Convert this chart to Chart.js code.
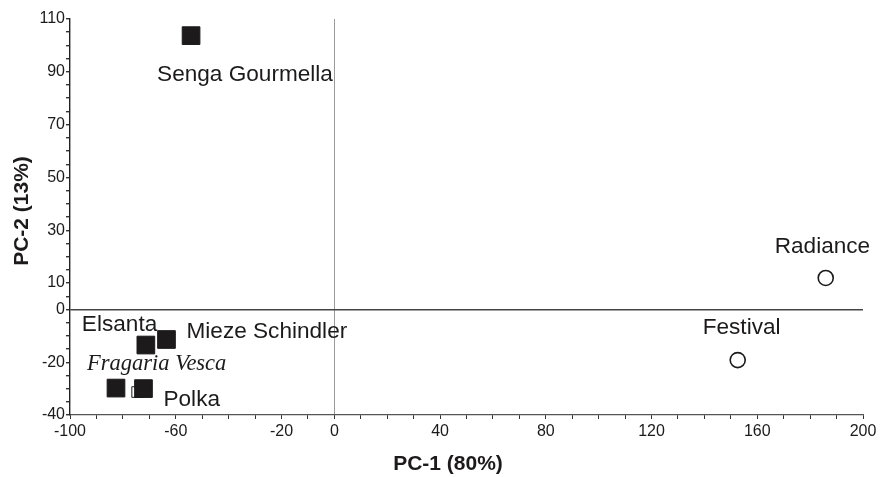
<!DOCTYPE html>
<html>
<head>
<meta charset="utf-8">
<title>PCA scatter</title>
<script src="https://cdn.jsdelivr.net/npm/chart.js@4.4.1/dist/chart.umd.min.js"></script>
<style>
  html, body { margin: 0; padding: 0; background: #fff; }
  canvas { display: block; }
</style>
</head>
<body>
<canvas id="pcaChart" width="880" height="477"></canvas>
<script>
// Cultivares (quadrados cheios)
const cultivarNames = ['Senga Gourmella', 'Elsanta', 'Mieze Schindler', 'Fragaria Vesca', 'Polka'];
const cultivarPC1 = [-54.2, -71.3, -63.5, -82.6, -72.2];
const cultivarPC2 = [103.7, -13.5, -11.4, -29.8, -30.0];

// Seleções (círculos abertos)
const selectionNames = ['Festival', 'Radiance'];
const selectionPC1 = [152.6, 185.9];
const selectionPC2 = [-19.2, 11.9];

// marcador pequeno escondido atrás de Polka
const hiddenPC1 = [-74.6];
const hiddenPC2 = [-31.3];

// Eixos
const xMin = -100, xMax = 200, xStep = 10;
const yMin = -40, yMax = 110, yStep = 5;
const xTickLabels = [-100, -60, -20, 0, 40, 80, 120, 160, 200];
const yTickLabels = [-40, -20, 0, 10, 30, 50, 70, 90, 110];
const xTitle = 'PC-1 (80%)';
const yTitle = 'PC-2 (13%)';

// deslocamento dos rótulos em pixels (esquerda, linha de base)
const labelOffsets = {
    'Senga Gourmella': [-34, 45],
    'Elsanta': [-64, -14],
    'Mieze Schindler': [20, -1],
    'Fragaria Vesca': [-29, -18],
    'Polka': [20, 17],
    'Festival': [-35, -26],
    'Radiance': [-51, -25]
};

const ink = '#1c1a1b';

function toPoints(xs, ys) {
    return xs.map((x, i) => ({ x: x, y: ys[i] }));
}

function stepTicks(min, max, step) {
    const out = [];
    for (let v = min; v <= max; v += step) out.push({ value: v });
    return out;
}

const pointLabels = {
    id: 'pointLabels',
    afterDatasetsDraw(chart) {
        const ctx = chart.ctx;
        ctx.save();
        ctx.fillStyle = ink;
        ctx.textAlign = 'left';
        ctx.textBaseline = 'alphabetic';
        [cultivarNames, selectionNames].forEach((names, di) => {
            const meta = chart.getDatasetMeta(di);
            names.forEach((name, i) => {
                const pt = meta.data[i];
                const off = labelOffsets[name];
                ctx.font = name === 'Fragaria Vesca'
                    ? 'italic 22.5px "Liberation Serif"'
                    : '22.6px "Liberation Sans"';
                ctx.fillText(name, pt.x + off[0], pt.y + off[1]);
            });
        });
        ctx.restore();
    }
};

const axisTitles = {
    id: 'axisTitles',
    afterDraw(chart) {
        const ctx = chart.ctx;
        const area = chart.chartArea;
        ctx.save();
        ctx.fillStyle = ink;
        ctx.font = 'bold 21px "Liberation Sans"';
        ctx.textAlign = 'center';
        ctx.textBaseline = 'middle';
        ctx.fillText(xTitle, area.left + 378, chart.height - 13);
        ctx.translate(22, area.top + 192);
        ctx.rotate(-Math.PI / 2);
        ctx.fillText(yTitle, 0, 0);
        ctx.restore();
    }
};

const ctx = document.getElementById('pcaChart').getContext('2d');
const pcaChart = new Chart(ctx, {
    type: 'scatter',
    data: {
        datasets: [{
            label: 'Cultivares',
            data: toPoints(cultivarPC1, cultivarPC2),
            pointStyle: 'rect',
            pointRadius: 12.5,
            backgroundColor: ink,
            borderColor: ink,
            borderWidth: 1
        }, {
            label: 'Seleções',
            data: toPoints(selectionPC1, selectionPC2),
            pointStyle: 'circle',
            pointRadius: 7.5,
            backgroundColor: '#ffffff',
            borderColor: ink,
            borderWidth: 1.6
        }, {
            label: 'escondido',
            data: toPoints(hiddenPC1, hiddenPC2),
            pointStyle: 'rect',
            pointRadius: 7.5,
            backgroundColor: '#ffffff',
            borderColor: ink,
            borderWidth: 1
        }]
    },
    options: {
        responsive: false,
        animation: false,
        devicePixelRatio: 1,
        layout: {
            padding: { top: 19, right: 17, left: 0, bottom: 0 }
        },
        plugins: {
            legend: { display: false },
            tooltip: { enabled: false }
        },
        scales: {
            x: {
                type: 'linear',
                min: xMin,
                max: xMax,
                afterBuildTicks: scale => { scale.ticks = stepTicks(xMin, xMax, xStep); },
                afterFit: scale => { scale.height = 62; },
                border: { display: true, color: '#555', width: 1.2 },
                grid: {
                    drawTicks: true,
                    tickLength: 4,
                    tickColor: '#333',
                    lineWidth: 1,
                    color: c => (c.tick && c.tick.value === 0 ? '#9a9a9a' : 'rgba(0,0,0,0)')
                },
                ticks: {
                    autoSkip: false,
                    maxRotation: 0,
                    padding: 3,
                    color: ink,
                    font: { family: '"Liberation Sans"', size: 16 },
                    callback: v => (xTickLabels.includes(v) ? String(v) : '')
                }
            },
            y: {
                type: 'linear',
                min: yMin,
                max: yMax,
                afterBuildTicks: scale => { scale.ticks = stepTicks(yMin, yMax, yStep); },
                afterFit: scale => { scale.width = 70; },
                border: { display: true, color: '#222', width: 1.4 },
                grid: {
                    drawTicks: true,
                    tickLength: 4,
                    tickColor: '#333',
                    lineWidth: 1.4,
                    color: c => (c.tick && c.tick.value === 0 ? '#444' : 'rgba(0,0,0,0)')
                },
                ticks: {
                    autoSkip: false,
                    padding: 1,
                    color: ink,
                    font: { family: '"Liberation Sans"', size: 16 },
                    callback: v => (yTickLabels.includes(v) ? String(v) : '')
                }
            }
        }
    },
    plugins: [pointLabels, axisTitles]
});
</script>
</body>
</html>
